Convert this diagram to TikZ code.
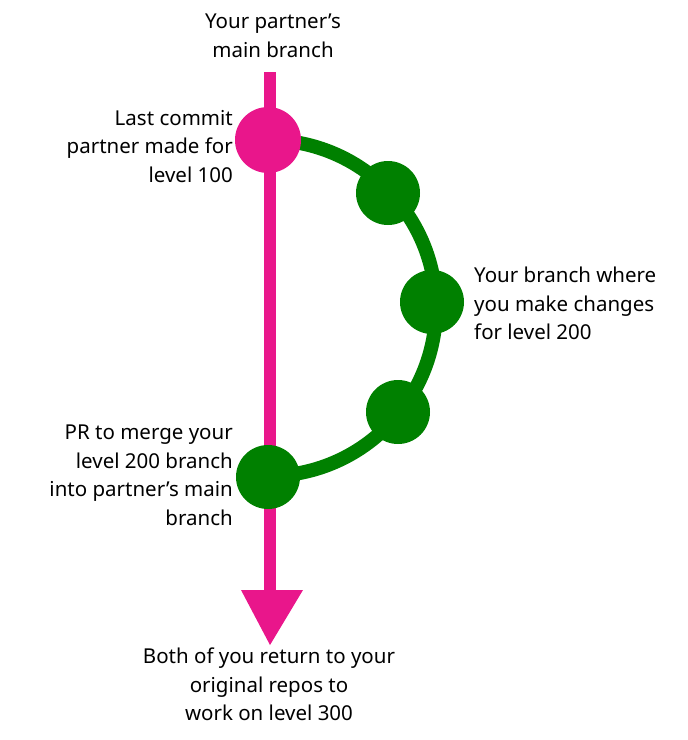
\documentclass[tikz,border=0pt]{standalone}
\usepackage{fontspec}
\usetikzlibrary{calc}
\setmainfont{Noto Sans}
\definecolor{pk}{RGB}{233,22,139}
\definecolor{gr}{RGB}{0,128,0}
\newcommand{\ap}{\char"0027{}}
\begin{document}
\begin{tikzpicture}[x=1pt,y=-1pt,
  lbl/.style={font=\fontsize{20.5}{28.5}\selectfont,inner sep=0pt},
  gdot/.style={circle,fill=gr,minimum size=64pt,inner sep=0pt},
  pdot/.style={circle,fill=pk,minimum size=66pt,inner sep=0pt}]
\useasboundingbox (0,0) rectangle (688,740);
\coordinate (top) at (270,72);
\coordinate (tip) at (270,645);
\draw[pk,line width=12pt] (top) -- (270,592);
\fill[pk] (241,590) -- (303,590) -- (tip) -- cycle;
\draw[gr,line width=14pt] (268,140) arc[start angle=-90,end angle=90,radius=168];
\node[pdot] (p) at (268,140) {};
\node[gdot] (g1) at (388,193) {};
\node[gdot] (g2) at (432,302) {};
\node[gdot] (g3) at (398,412) {};
\node[gdot] (m) at (268,477) {};
\node[lbl,align=center,anchor=north] (t1) at (273,14) {Your partner\ap s\\main branch};
\node[lbl,align=right,anchor=north east] (t2) at (233,110) {Last commit\\partner made for\\level 100};
\node[lbl,align=left,anchor=north west] (t3) at (474,267) {Your branch where\\you make changes\\for level 200};
\node[lbl,align=right,anchor=north east] (t4) at (233,425) {PR to merge your\\level 200 branch\\into partner\ap s main\\branch};
\node[lbl,align=center,anchor=north] (t5) at (269,648) {Both of you return to your\\original repos to\\work on level 300};
\end{tikzpicture}
\end{document}
